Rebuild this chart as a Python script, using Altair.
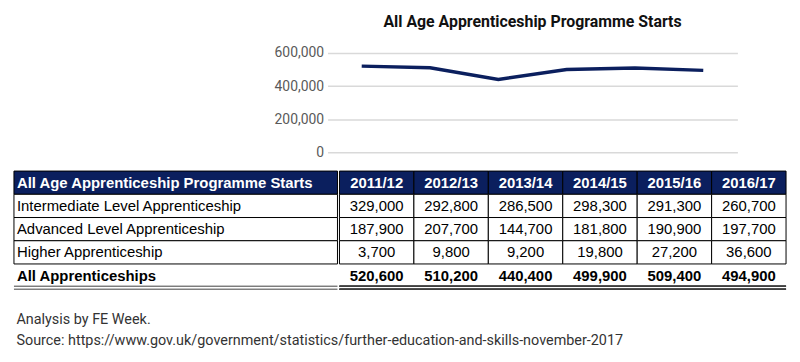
import altair as alt
import pandas as pd

# ---- data ----
years = ["2011/12", "2012/13", "2013/14", "2014/15", "2015/16", "2016/17"]
intermediate = [329000, 292800, 286500, 298300, 291300, 260700]
advanced = [187900, 207700, 144700, 181800, 190900, 197700]
higher = [3700, 9800, 9200, 19800, 27200, 36600]
all_total = [520600, 510200, 440400, 499900, 509400, 494900]
header_label = "All Age Apprenticeship Programme Starts"
row_labels = ["Intermediate Level Apprenticeship", "Advanced Level Apprenticeship",
              "Higher Apprenticeship", "All Apprenticeships"]
y_ticks = [0, 200000, 400000, 600000]
notes = ["Analysis by FE Week.",
         "Source: https://www.gov.uk/government/statistics/further-education-and-skills-november-2017"]

NAVY = "#0b1f5e"
DIN = "Roboto"
ARIAL = "Liberation Sans"

# ---- line chart ----
line_df = pd.DataFrame({"year": years, "starts": all_total})

line = alt.Chart(line_df).mark_line(color=NAVY, strokeWidth=3.5).encode(
    x=alt.X("year:N", sort=years, axis=None),
    y=alt.Y("starts:Q", scale=alt.Scale(domain=[0, 600000]),
            axis=alt.Axis(values=y_ticks, format=",d", title=None, domain=False, ticks=False,
                          grid=True, gridColor="#d9d9d9", gridWidth=1.5,
                          labelFont=DIN, labelFontSize=14, labelColor="#595959", labelPadding=4)),
).properties(
    width=413, height=100,
    title=alt.TitleParams(header_label, font=DIN, fontSize=16, fontWeight="bold",
                          color="#111111", anchor="middle", frame="group", offset=16),
)

spacer = alt.Chart(line_df).mark_point(opacity=0).encode(
    x=alt.X("year:N", axis=None), y=alt.Y("starts:Q", axis=None)
).properties(width=262, height=100)

top = alt.hconcat(spacer, line, spacing=0)

# ---- table ----
left_recs = [dict(col="label", row=0, kind="header", text=header_label)]
for r, lab in enumerate(row_labels[:3], start=1):
    left_recs.append(dict(col="label", row=r, kind="body", text=lab))
left_recs.append(dict(col="label", row=4, kind="total", text=row_labels[3]))
left_df = pd.DataFrame(left_recs)

right_recs = []
for i, yr in enumerate(years):
    right_recs.append(dict(year=yr, row=0, kind="header", text=yr))
    for r, series in enumerate([intermediate, advanced, higher], start=1):
        right_recs.append(dict(year=yr, row=r, kind="body", text=f"{series[i]:,}"))
    right_recs.append(dict(year=yr, row=4, kind="total", text=f"{all_total[i]:,}"))
right_df = pd.DataFrame(right_recs)

BAND = alt.Scale(type="band", paddingInner=0, paddingOuter=0)
yenc = alt.Y("row:O", axis=None, scale=BAND)
ytext = alt.Y("row:O", axis=None, bandPosition=0.5, scale=BAND)
fill = alt.Color("kind:N", scale=alt.Scale(domain=["header", "body"], range=[NAVY, "white"]), legend=None)


def table_part(df, xfield, sort, width, align):
    base = alt.Chart(df)
    xenc = alt.X(f"{xfield}:N", sort=sort, axis=None, scale=BAND)
    if align == "left":
        xt = alt.X(f"{xfield}:N", sort=sort, axis=None, bandPosition=0, scale=BAND)
        dx = 3
    else:
        xt = alt.X(f"{xfield}:N", sort=sort, axis=None, bandPosition=0.5, scale=BAND)
        dx = 0
    cells = base.transform_filter("datum.kind != 'total'").mark_rect(
        stroke="#000000", strokeWidth=1).encode(x=xenc, y=yenc, fill=fill)
    head = base.transform_filter("datum.kind == 'header'").mark_text(
        align=align, dx=dx, baseline="middle", font=ARIAL, fontSize=15, fontWeight="bold",
        color="white").encode(x=xt, y=ytext, text="text:N")
    body = base.transform_filter("datum.kind == 'body'").mark_text(
        align=align, dx=dx, baseline="middle", font=ARIAL, fontSize=15,
        color="#000000").encode(x=xt, y=ytext, text="text:N")
    tot = base.transform_filter("datum.kind == 'total'").mark_text(
        align=align, dx=dx, baseline="middle", font=ARIAL, fontSize=15, fontWeight="bold",
        color="#000000").encode(x=xt, y=ytext, text="text:N")
    ybot = alt.Y("row:O", axis=None, bandPosition=1, scale=BAND)
    r1 = base.transform_filter("datum.kind == 'total'").mark_rule(
        color="#404040", strokeWidth=1, yOffset=-1).encode(y=ybot)
    r2 = base.transform_filter("datum.kind == 'total'").mark_rule(
        color="#404040", strokeWidth=1, yOffset=2).encode(y=ybot)
    return alt.layer(cells, head, body, tot, r1, r2).properties(width=width, height=117)


left = table_part(left_df, "col", ["label"], 326, "left")
right = table_part(right_df, "year", years, 450, "center")
table = alt.hconcat(left, right, spacing=0)

chart = alt.vconcat(top, table, spacing=11).properties(
    title=alt.TitleParams(notes, orient="bottom", anchor="start", font=DIN, fontSize=14.5,
                          fontWeight="normal", color="#333333", lineHeight=21, offset=24, dx=3)
).configure(background="white").configure_view(stroke=None)

chart.save("out.html", embed_options={"renderer": "svg", "actions": False})
